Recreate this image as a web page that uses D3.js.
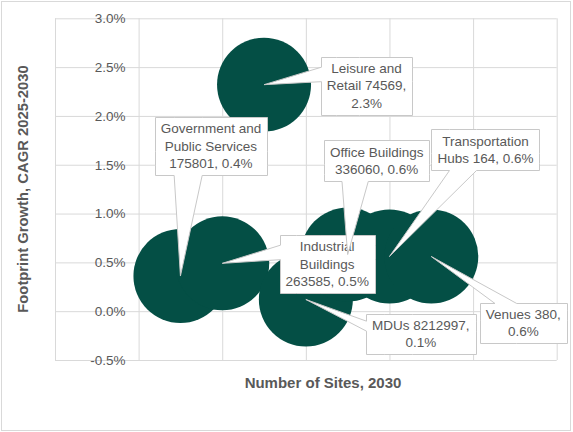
<!DOCTYPE html>
<html>
<head>
<meta charset="utf-8">
<script src="https://cdn.jsdelivr.net/npm/d3@7"></script>
<style>
  body { margin: 0; background: #fff; }
  text { font-family: "Liberation Sans", Arial, sans-serif; fill: #595959; }
</style>
</head>
<body>
<div id="chart"></div>
<script>
const categories = ["Government and Public Services", "Industrial Buildings", "Leisure and Retail", "MDUs",
  "Office Buildings", "Transportation Hubs", "Venues"];
const sites2030 = [175801, 263585, 74569, 8212997, 336060, 164, 380];
const cagr = [0.0036, 0.0049, 0.0232, 0.0012, 0.0058, 0.0056, 0.0056];
const bubbleSize = [1, 1, 1, 1, 1, 1, 1];
const yTicks = [-0.005, 0, 0.005, 0.01, 0.015, 0.02, 0.025, 0.03];
const xTicks = [-2, 0, 2, 4, 6, 8, 10];

// callout placement: box centre offset from bubble centre (px), and wrap width
const labelDx = [30.5, 105, 102.5, 115, 29, 96, 92];
const labelDy = [-130, 0.5, 1, 34.5, -94, -107, 66.5];
const labelWrap = [105, 86, 82, 100, 102, 100, 85];

const width = 573, height = 432;
const plotL = 55, plotR = 556.7, plotT = 18.3, plotB = 360;
const green = "#044f45";
const grid = "#d9d9d9";

const locale = d3.formatLocale({decimal: ".", thousands: ",", grouping: [3], currency: ["$", ""], minus: "-"});
const pct = locale.format(".1%");

const svg = d3.select("#chart").append("svg")
  .attr("width", width)
  .attr("height", height);

svg.append("rect")
  .attr("x", 1.5).attr("y", 1.5)
  .attr("width", 569).attr("height", 429)
  .attr("fill", "#fff")
  .attr("stroke", grid);

const x = d3.scaleLinear().domain([-2, 10]).range([plotL, plotR]);
const y = d3.scaleLinear().domain([-0.005, 0.03]).range([plotB, plotT]);
const r = d3.scaleSqrt().domain([0, 1]).range([0, 47]);

// gridlines
svg.append("g")
  .attr("transform", `translate(${plotL},0)`)
  .call(d3.axisLeft(y).tickValues(yTicks).tickSize(-(plotR - plotL)).tickFormat(""))
  .call(g => g.select(".domain").remove())
  .call(g => g.selectAll("line").attr("stroke", grid));

svg.append("g")
  .attr("transform", `translate(0,${plotB})`)
  .call(d3.axisBottom(x).tickValues(xTicks).tickSize(-(plotB - plotT)).tickFormat(""))
  .call(g => g.select(".domain").remove())
  .call(g => g.selectAll("line").attr("stroke", grid));

// bubbles
const pts = categories.map((c, i) => ({
  cat: c, sites: sites2030[i], v: cagr[i], size: bubbleSize[i], xv: i + 1, i
}));

svg.append("g").selectAll("circle")
  .data(pts)
  .join("circle")
  .attr("cx", d => x(d.xv))
  .attr("cy", d => y(d.v))
  .attr("r", d => r(d.size))
  .attr("fill", green);

// y tick labels at the vertical axis (x = 0)
svg.append("g")
  .attr("transform", `translate(${x(0)},0)`)
  .call(d3.axisLeft(y).tickValues(yTicks).tickSize(0).tickPadding(13).tickFormat(pct))
  .call(g => g.select(".domain").remove())
  .call(g => g.selectAll("text")
    .style("font-family", '"Liberation Sans", Arial, sans-serif')
    .style("font-size", "13.5px")
    .attr("fill", "#595959"));

// axis titles
svg.append("text")
  .attr("transform", "translate(23,189) rotate(-90)")
  .attr("text-anchor", "middle")
  .attr("dy", "0.35em")
  .style("font-size", "14.8px")
  .style("font-weight", "bold")
  .text("Footprint Growth, CAGR 2025-2030");

svg.append("text")
  .attr("x", 323).attr("y", 383)
  .attr("text-anchor", "middle")
  .attr("dy", "0.35em")
  .style("font-size", "15px")
  .style("font-weight", "bold")
  .text("Number of Sites, 2030");

// callout shape like Office wedgeRectCallout
function wedgePath(l, t, rr, b, xPos, yPos) {
  const w = rr - l, h = b - t, hc = (l + rr) / 2, vc = (t + b) / 2;
  const dxPos = xPos - hc, dyPos = yPos - vc;
  const dq = dxPos * h / w;
  const dz = Math.abs(dyPos) - Math.abs(dq);
  const xg1 = dxPos > 0 ? 7 : 2, xg2 = dxPos > 0 ? 10 : 5;
  const yg1 = dyPos > 0 ? 7 : 2, yg2 = dyPos > 0 ? 10 : 5;
  const x1 = l + w * xg1 / 12, x2 = l + w * xg2 / 12;
  const y1 = t + h * yg1 / 12, y2 = t + h * yg2 / 12;
  const xl = dz > 0 ? l : (dxPos > 0 ? l : xPos);
  const xt = dz > 0 ? (dyPos > 0 ? x1 : xPos) : x1;
  const xr = dz > 0 ? rr : (dxPos > 0 ? xPos : rr);
  const xb = dz > 0 ? (dyPos > 0 ? xPos : x1) : x1;
  const yl = dz > 0 ? y1 : (dxPos > 0 ? y1 : yPos);
  const yt = dz > 0 ? (dyPos > 0 ? t : yPos) : t;
  const yr = dz > 0 ? y1 : (dxPos > 0 ? yPos : y1);
  const yb = dz > 0 ? (dyPos > 0 ? yPos : b) : b;
  const p = d3.path();
  p.moveTo(l, t); p.lineTo(x1, t); p.lineTo(xt, yt); p.lineTo(x2, t); p.lineTo(rr, t);
  p.lineTo(rr, y1); p.lineTo(xr, yr); p.lineTo(rr, y2); p.lineTo(rr, b);
  p.lineTo(x2, b); p.lineTo(xb, yb); p.lineTo(x1, b); p.lineTo(l, b);
  p.lineTo(l, y2); p.lineTo(xl, yl); p.lineTo(l, y1);
  p.closePath();
  return p.toString();
}

const lineH = 17.3;
const labels = svg.append("g");

pts.forEach(d => {
  const cx = x(d.xv), cy = y(d.v);
  const bx = cx + labelDx[d.i], by = cy + labelDy[d.i];
  const g = labels.append("g");
  const path = g.append("path");
  const txt = g.append("text")
    .attr("text-anchor", "middle")
    .style("font-size", "13.5px");

  // greedy word wrap to the label width
  const words = `${d.cat} ${d.sites}, ${pct(d.v)}`.split(" ");
  const probe = g.append("text").style("font-size", "13.5px");
  const lines = [];
  let cur = "";
  words.forEach(wd => {
    const test = cur ? cur + " " + wd : wd;
    probe.text(test);
    if (cur && probe.node().getComputedTextLength() > labelWrap[d.i]) {
      lines.push(cur);
      cur = wd;
    } else {
      cur = test;
    }
  });
  lines.push(cur);
  probe.remove();

  let maxW = 0;
  lines.forEach((ln, k) => {
    const ts = txt.append("tspan")
      .attr("x", bx)
      .attr("y", by + (k - (lines.length - 1) / 2) * lineH)
      .attr("dy", "0.35em")
      .text(ln);
    maxW = Math.max(maxW, ts.node().getComputedTextLength());
  });

  const w = maxW + 12, h = lines.length * lineH + 6;
  const l = Math.round(bx - w / 2) + 0.5, t = Math.round(by - h / 2) + 0.5;
  const rr = Math.round(bx + w / 2) + 0.5, b = Math.round(by + h / 2) + 0.5;
  path.attr("d", wedgePath(l, t, rr, b, cx, cy))
    .attr("fill", "#fff")
    .attr("stroke", "#c8c8c8")
    .attr("stroke-width", 1);
});
</script>
</body>
</html>
